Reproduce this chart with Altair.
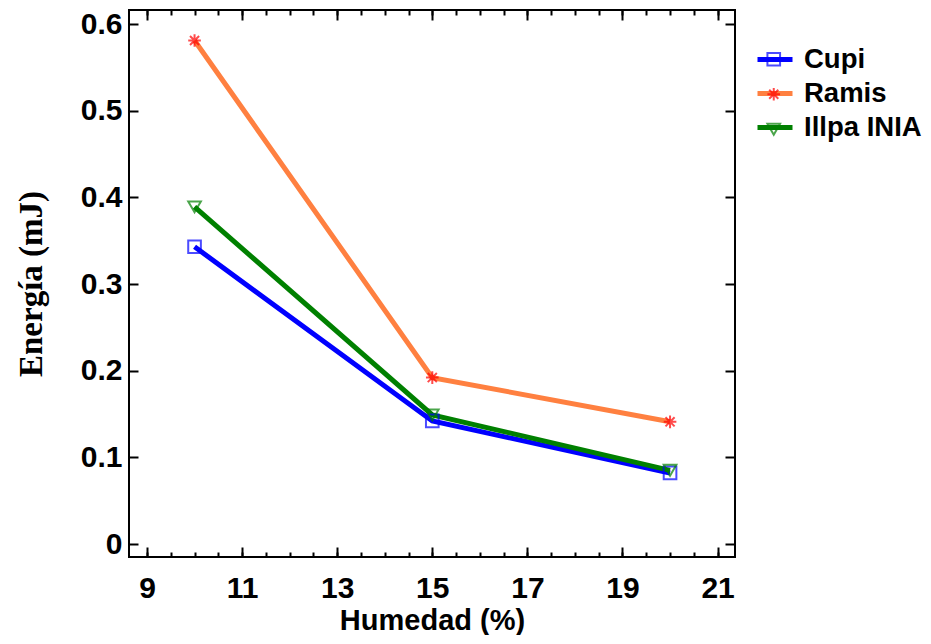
import altair as alt
import pandas as pd

# ---- data ----
SERIES = ["Cupi", "Ramis", "Illpa INIA"]
HUMEDAD = [10, 15, 20]
CUPI = [0.343, 0.142, 0.082]
RAMIS = [0.581, 0.192, 0.141]
ILLPA = [0.389, 0.149, 0.085]

LINE_COLORS = ["#0000FF", "#FF8040", "#008000"]
MARKER_COLORS = ["#0000FF", "#FF0000", "#008000"]
ASTERISK = "M-1,0L1,0M0,-1L0,1M-0.72,-0.72L0.72,0.72M-0.72,0.72L0.72,-0.72"
MARKER_SHAPES = ["square", ASTERISK, "triangle-down"]

X_MAJOR = [9, 11, 13, 15, 17, 19, 21]
X_MINOR = [9, 9.5, 10, 10.5, 11, 11.5, 12, 12.5, 13, 13.5, 14, 14.5, 15,
           15.5, 16, 16.5, 17, 17.5, 18, 18.5, 19, 19.5, 20, 20.5, 21]
Y_MAJOR = [0, 0.1, 0.2, 0.3, 0.4, 0.5, 0.6]

XDOM = [8.6215, 21.366]
YDOM = [-0.015, 0.6162]

rows = []
for name, vals in [("Ramis", RAMIS), ("Cupi", CUPI), ("Illpa INIA", ILLPA)]:
    for h, v in zip(HUMEDAD, vals):
        rows.append({"series": name, "marker": name, "humedad": h, "energia": v})
df = pd.DataFrame(rows)

SANS = "Liberation Sans"
SERIF = "Liberation Serif"

W, H = 606, 547


def xenc(axis):
    return alt.X("humedad:Q", scale=alt.Scale(domain=XDOM, nice=False, zero=False), axis=axis)


def yenc(axis):
    return alt.Y("energia:Q", scale=alt.Scale(domain=YDOM, nice=False, zero=False), axis=axis)


def tick_axis(orient, values, size):
    return alt.Axis(orient=orient, values=values, ticks=True, tickSize=size, offset=-size,
                    labels=False, domain=False, grid=False, title=None,
                    tickColor="black", tickWidth=2)


x_label_axis = alt.Axis(orient="bottom", values=X_MAJOR, ticks=False, tickSize=0, domain=False,
                        grid=False, labelPadding=16, labelFont=SANS, labelFontSize=30,
                        labelFontWeight="bold", labelColor="black", labelFlush=False,
                        labelOverlap=False, format="d",
                        title="Humedad (%)", titleFont=SANS, titleFontSize=29,
                        titleFontWeight="bold", titleColor="black", titlePadding=3)

y_label_axis = alt.Axis(orient="left", values=Y_MAJOR, ticks=False, tickSize=0, domain=False,
                        grid=False, labelPadding=7, labelFont=SANS, labelFontSize=30,
                        labelFontWeight="bold", labelColor="black", labelFlush=False,
                        labelOverlap=False, format=".1~f",
                        title="Energía (mJ)", titleFont=SERIF, titleFontSize=33,
                        titleFontWeight="bold", titleColor="black", titlePadding=32)

line_legend = alt.Legend(orient="none", legendX=626, legendY=29.5, title=None,
                         symbolType="stroke", symbolSize=1225, symbolStrokeWidth=5,
                         labelFont=SANS, labelFontSize=27.5, labelFontWeight="bold",
                         labelColor="black", labelOffset=9, rowPadding=0, padding=0)

marker_legend = alt.Legend(orient="none", legendX=631, legendY=35.5, title=None,
                           symbolSize=160, symbolStrokeWidth=2, symbolFillColor="transparent",
                           labelFont=SANS, labelFontSize=27.5, labelFontWeight="bold",
                           labelOpacity=0, labelOffset=13, rowPadding=6, padding=0)

base = alt.Chart(df)

lines = base.mark_line(strokeWidth=5).encode(
    x=xenc(x_label_axis),
    y=yenc(y_label_axis),
    color=alt.Color("series:N", sort=SERIES, scale=alt.Scale(range=LINE_COLORS), legend=line_legend),
)

points = base.mark_point(filled=False, size=160, strokeWidth=2, fill="transparent").encode(
    x=xenc(tick_axis("bottom", X_MAJOR, 10)),
    y=yenc(tick_axis("left", Y_MAJOR, 9)),
    stroke=alt.Stroke("marker:N", scale=alt.Scale(domain=SERIES, range=MARKER_COLORS), legend=marker_legend),
    shape=alt.Shape("marker:N", scale=alt.Scale(domain=SERIES, range=MARKER_SHAPES), legend=marker_legend),
)

helper1 = base.mark_point(opacity=0).encode(
    x=xenc(tick_axis("bottom", X_MINOR, 5)),
    y=yenc(tick_axis("right", Y_MAJOR, 10)),
)
helper2 = base.mark_point(opacity=0).encode(
    x=xenc(tick_axis("top", X_MAJOR, 10)),
    y=yenc(None),
)
helper3 = base.mark_point(opacity=0).encode(
    x=xenc(tick_axis("top", X_MINOR, 5)),
    y=yenc(None),
)

chart = alt.layer(lines, points, helper1, helper2, helper3).resolve_axis(
    x="independent", y="independent"
).properties(
    width=W, height=H,
    background="white",
    autosize=alt.AutoSizeParams(type="none"),
    padding={"left": 121, "top": 2, "right": 187, "bottom": 78},
).configure_view(
    stroke="black", strokeWidth=2
)

chart.save("out.html", embed_options={"renderer": "svg", "actions": False})
